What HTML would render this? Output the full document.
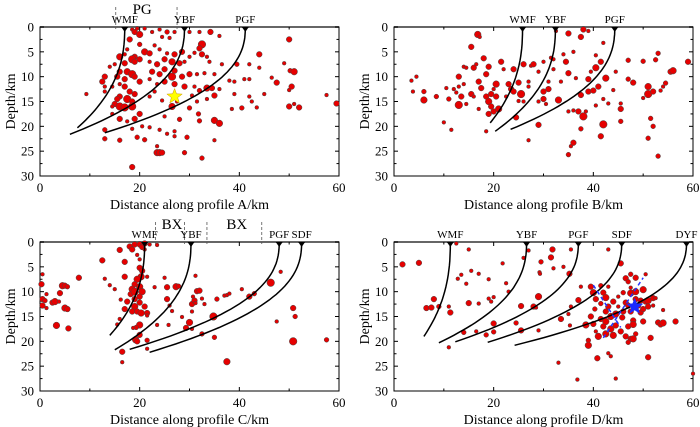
<!DOCTYPE html>
<html><head><meta charset="utf-8">
<style>
html,body{margin:0;padding:0;background:#fff;}
svg{display:block;font-family:"Liberation Serif",serif;}
</style></head>
<body>
<svg id="chart" width="700" height="427" viewBox="0 0 700 427" xmlns="http://www.w3.org/2000/svg"></svg>
<script>
const xTicks = [0,20,40,60];
const yTicks = [0,5,10,15,20,25,30];
const panelIds = ['A','B','C','D'];
const panelOrigins = {A:[40,27],B:[394,27],C:[40,242],D:[394,242]};
// events: [distance km, depth km, radius]
const eventsA = [[18.5,0.5,2],[19,1,3],[20,1.5,3.5],[19.5,0.3,2],[21,0.3,2],[18,2.5,3],[20,3.5,2.5],[17.5,4.5,2],[21,5,3.5],[22,5.3,3],[19,6,3],[16,6,3.5],[17,5.5,2],[18.5,6.5,4],[20,6.5,3],[15,7.5,2],[17,7.3,3],[19,7,3],[14,8,2],[16,9,3],[17.5,9,3.5],[18.5,9.5,4],[15.5,10,3],[17,10.5,3],[19,10,3],[20,11,3],[13,10,3],[12.5,11,3],[14.5,12,2],[16,11.5,2],[17,12,3],[18,13,3],[19,13.5,3],[16,14,3],[17.5,14.5,4],[18.5,15,3],[15.5,14.5,3],[15,15.5,3],[16,16,4],[17,16.2,4],[18.5,16,4],[14.5,16,2],[13,13,2],[13,12,2],[9.3,13.5,2],[14.5,17.5,2],[16,18.5,3],[17.5,19,2],[19,18.5,3],[20,17.5,3],[13,20.7,2.5],[13,22.5,2.5],[16,22.8,2.5],[19.5,22.2,2.5],[21,22.7,2.5],[18.5,20.5,2],[20.5,20,2],[22,20.2,2],[18.5,28.2,3],[23.5,25.3,3.5],[24,25.3,3.5],[24.5,25.3,3],[23.5,24,2],[24,20.7,2],[25.5,21.5,2],[27,22,2],[27,21,2],[29.5,22.2,2.5],[29,25.3,2.5],[32.5,26.4,2.5],[22.5,1,2],[24,0.5,2],[24.5,2,2],[25.5,1,2.5],[26,2.2,2],[27,1,2],[30,1,2],[32,1,2],[34.2,1,3],[36,1.8,2],[32.5,3.5,4],[32,4.3,3],[32.5,5.5,3],[31,5.2,2],[30,6,2],[28.5,5,3],[27,5.5,3],[25.5,5.3,2],[24,4.5,2],[23,3.7,2],[22,7,2],[23.5,7.5,3],[25,6.5,3],[26.5,7,3.5],[28,7.3,3],[29,7,2],[33.5,6,2],[34,7,2],[36.5,7.5,2],[25,8.5,3],[27,8.8,3],[22.5,9,3],[24,9.5,3],[26.5,10,4],[28.5,10,3],[30,9.5,3],[31.5,9.5,2],[33,9.3,2],[35,9.5,2],[22,10.5,2],[23.5,11.5,2],[25,11,3],[27,11.5,3],[29,12,3],[31,12,2],[33.5,12.3,3.5],[34.5,12.3,3],[36,12.5,2],[32,12.8,2.5],[38,10.8,2],[30.5,13.8,2],[31.5,15,2],[33.5,14.5,2],[35,13.8,3],[27.5,15,2],[26.5,16,3.5],[30,16.3,2.5],[22,14,2],[24.5,14.8,2],[23,13,2],[31.8,17.5,2.5],[32,18.9,2.5],[35,18.8,3.5],[36,19.4,3.5],[28,18.6,2.5],[25,18,2],[35,22.8,2],[38.5,16.5,2],[40.5,16.3,2.5],[43.5,16.2,2],[42,14,2],[42.5,15,2],[41,10.5,2],[39,11,2],[39,13.5,2],[42,10.5,2],[44,8.2,2],[42,7.5,2],[44,5.5,3],[39.5,7.5,2.5],[45,13.5,2],[46.5,10.2,2],[47.5,11.2,3],[49,7.3,2],[50,2.5,3],[50.2,8.8,2.5],[51,9,3.5],[50.5,12,3],[50,12.7,2],[50,16,3],[51,15.5,2],[52,16.2,3],[57.5,13.7,2],[59.5,15.4,3]];
const eventsB = [[3.5,10.8,2],[4.5,10,2],[3.8,13,2],[6,13,2.5],[6,14.7,3.5],[8.5,14,2.5],[10,19.2,2],[10.5,12.3,2],[11,14.5,2.5],[11.5,20.7,2],[12,12.5,2],[12.5,13.2,2],[13,10,3],[13,12,2],[13,15.7,4],[13.5,14,3],[14,8,2],[14,11.5,2],[14.5,15.5,2],[14.5,8.2,2],[15.5,13.5,3],[16,14,2],[16,8.2,3],[15.5,4,3],[16.8,1.5,3.5],[17.2,2,2],[16.5,7.5,2],[17,11,3],[17,16.5,2],[17.5,12.3,3],[18,6.3,3],[18.5,9.5,3],[18.5,14,3],[19,8,3],[19,15,3.5],[19.5,13.5,3],[19.5,16,3],[20,17,3],[20,12.5,2],[20.5,11.5,3.5],[21,16.5,3.5],[20.5,14,3],[19,17.5,3],[18.5,21,2],[21.5,7,3],[22,8.5,2],[22.5,14,2],[23,11.5,3],[23.5,12.5,3],[24,8.5,3],[24,13,3],[25.5,13.5,4],[25,11.2,3],[24.5,18.2,3],[26,7.5,3],[25,14.9,2],[26,15,2],[27,11,2],[27.5,7.8,2],[28,7.5,3],[27,12,2],[27,22.8,2],[29,19.7,3],[29,15,2],[29,9,2],[30,13,3],[30,14.5,3],[30,7,2],[30.5,15.5,2],[31,12.5,3],[31,11,2],[31.5,6.2,2],[32,8.5,2],[32,6.5,2],[32.5,0.8,2],[33,14.7,3.5],[33.5,11,2],[34,5.5,2],[34.5,7,3],[35,9.3,3],[35,1.3,3],[35,17,2],[35,25.7,2.5],[35.5,24,2],[36,23.3,3],[36,5,2],[36.5,10.3,2],[37,17,3],[37.5,13.7,3],[37.5,2,3],[37.5,20.5,2.5],[38,18,4],[38,0.5,3],[38.5,17,2],[39,10.5,3],[39,13,3],[39,0.8,2],[39.5,9,2],[40,12.8,3],[40.5,8.2,3.5],[40.5,5.7,2],[40.5,15.8,2],[41,12,3],[41.5,7,3],[41.5,22,3],[42,19.6,4],[42,14.5,2],[42.5,10.3,3.5],[42,3.2,2],[43,15.4,2],[44,12.7,2],[44.5,9,2],[45.5,15.4,2],[45.5,16.5,3],[45.5,19,2.5],[47,6.7,2.5],[47,10.5,2.5],[48,11.2,3],[50,14.3,2],[50,6.9,2.5],[51,12,3.5],[51,13.5,4],[52,13,3],[51.5,18.4,2.5],[52,20,2.5],[51,22.4,2.5],[52.5,6.6,2.5],[53,5.3,2.5],[53.5,12.8,2],[54,12,2],[54.5,11.3,2.5],[55.5,9,3],[56,8.8,3.5],[59,7,3],[53,26,2.5],[36,16.8,2]];
const eventsC = [[0.5,6.5,2],[0.3,8.5,3],[0.5,11.5,3],[0.5,12.8,3],[1,11.8,2.5],[1.3,10.5,2],[1.3,13.3,2],[2.5,12.2,3],[3,12,3.5],[3.3,16.8,3.5],[3.8,12,2],[4,10.3,3],[4.5,8.8,3.5],[5,8.8,3],[5,13.3,3.5],[5.5,9,2.5],[5.5,13.5,3],[5.7,17.4,3],[7.8,7.2,3],[12.5,3.7,3],[13,7.4,2],[14,8.7,2],[15,9.5,2],[15.5,16.6,2],[16,15.5,2],[16.5,24.2,2],[16.5,22.1,3],[16.2,11.6,2],[16,1.6,3],[17,4,3],[17,7,3],[17.5,12,3],[17,13.5,3],[18,0.9,3],[18.5,1.5,3],[19,0.5,3],[20,0.5,3],[20.5,1,3],[19.5,2.6,2],[20,3.5,2],[20,5.2,3],[20.5,5.8,3],[20.3,7,3.5],[19.5,7.5,3.5],[19,8.5,3],[18.5,9.5,3.5],[18.2,10.5,3],[19,10,4],[20,9,3.5],[20.5,10,3.5],[20,11,3],[19,11.5,3],[20,12.2,3],[19,13,3.5],[18.5,14,3],[19.5,14,3],[20.3,14.3,3.5],[21,13,3],[21.5,14.3,3],[21.5,14.8,2],[20,16.7,3.5],[19.3,17.2,2.5],[18.7,17.3,2],[20,18.7,3],[19.2,19.7,3.5],[19.5,20,3],[21.5,19.8,2.5],[21.5,21.5,2],[21.5,7,2],[21,1.5,2],[22,0.5,2],[23.5,0.6,2],[23,9.1,2],[23.5,16.7,2],[25,7.2,2],[25.5,9.1,3],[25.5,11.5,3],[26,12.8,2],[26.5,13.9,2],[25.8,16.7,2],[27.3,9,3.5],[27.8,8.9,2.5],[28.5,15.1,2],[29.3,17.3,3],[30,16.2,3.5],[30.5,17.5,2],[30.5,12.5,3],[30.7,11,2],[31,11.8,3],[31.2,6.8,2],[31.5,9.9,3],[32,9.8,3],[32.5,11.4,2],[32.5,18.5,2.5],[33,12.5,2],[34.8,15,4],[35.5,11.5,2.5],[35,19.2,2.5],[37,10.8,2],[37.5,10.7,2],[38,10.4,2],[37.5,24.1,3.5],[40.5,9.5,2],[42,11,3],[43,10.4,2.5],[46.3,8.2,4],[47.5,16,2],[48.3,6,2],[50.8,13.3,3],[51.2,15,2.5],[50.8,20,4],[57.5,19.7,2.5],[30.5,14,2],[31.2,12.3,2],[21,0.3,3]];
const eventsD = [[1.7,4.5,3],[5,4.2,3],[6.5,13.3,3],[7.5,13.2,3],[8,11.5,3],[9,13,2.5],[11,13,2],[11.3,14.2,3],[11,21.2,2],[12.5,0.3,2],[12.8,7.4,2],[13.5,6.6,2],[14,18.2,2.5],[14.5,8.4,2],[15,1.5,2],[15.5,5.8,2],[15,12.3,3],[16.5,18,2],[17,12.4,2],[17,6.4,2],[18.5,18.7,2.5],[19,11.4,2],[19,7.5,2],[19.5,12,2],[20,16.4,3],[20,18.1,2.5],[20,11.1,2],[21.8,4.3,2],[22.5,8.3,2],[23,10,2],[24.5,16.3,2.5],[25.5,12.9,3],[25.5,17.8,3],[26,3.2,2],[27,1.7,2],[28,13,3],[28.5,13.2,2],[29,11,3.5],[29,17.8,2],[29.2,6.1,2],[29.3,6.4,2],[29.5,4,2.5],[31.5,3.1,3],[31.8,1.5,3],[32,5.3,2],[33,24.3,2],[33.5,15.5,3],[34,5,2],[35,14.5,2],[35.2,6.4,3],[35.3,16.8,2],[35.5,13,2],[35.5,1.5,2],[36.8,27.7,2],[37,11.7,3],[37.5,9,2],[38.5,16.7,3.5],[39,19.8,2.5],[39,20.8,3.5],[39.5,15,3],[39.5,9,3],[40,10.2,3.5],[40.5,11.5,3],[40.3,13.5,2.5],[40,16.5,3],[40.5,18,2],[40.8,23.4,3],[41,19,3.5],[41.5,15.5,3],[41.5,12.4,2.5],[41.5,8.8,2.5],[42,10.2,3],[42,17,3],[42.5,11.2,3.5],[42.5,14,3],[42.5,16,3.5],[42.5,18.5,3.5],[43,13,3],[43,9,2],[43,22.4,2],[43.5,15,3.5],[43.5,17.5,3.5],[43,1.5,2],[43.5,23,2],[44,12,3],[44,18.8,3.5],[44.5,14.5,3.5],[44.5,16.8,3],[44.5,27.5,2],[45,11,2],[45,13,2],[45.5,18,3],[45.5,4.3,3],[45.8,15.2,3],[46,10.2,2.5],[46,14,3],[46.5,19,3],[46.5,12.2,3],[46.5,7.3,3],[47,8,2.5],[47.5,10.3,3.5],[47,12.8,3],[47.5,14,3],[47,17,3],[47.5,19.5,3],[47,20.2,2.5],[47.5,9.2,2],[47.5,6.5,2.5],[48,15.8,3],[48,16.6,3.5],[48,19.5,3.5],[48.5,11.5,3],[48.5,7.2,3],[48.5,18.5,2.5],[48.5,10,3.5],[49,12.8,3],[49.5,14.2,3],[49.5,11.8,3],[50,9.6,3.5],[50,13.5,3],[50,16,3],[50.5,12,3],[50.5,6.5,2],[51,11.8,3.5],[51,13,3],[51.5,19.3,3],[51,23.2,3],[52,11.3,3],[52,12.8,2],[52.5,11.3,2],[53,16.2,3],[53.5,16.6,3],[54,16.3,3.5],[54,13.7,2],[56.5,16,3],[60,26.5,2]];
// faults: [name, surface x, end x, end depth]
const faultsA = [['WMF',17,7.5,20.3],['YBF',29,6,21.6],['PGF',41.2,13,21.3]];
const faultsB = [['WMF',25.8,19.3,19.3],['YBF',32.4,20.3,21],['PGF',44.3,23.4,20.6]];
const faultsC = [['WMF',21,14,18.8],['YBF',30.3,15,21.7],['PGF',48,18,21.6],['SDF',52.5,22,22.2]];
const faultsD = [['WMF',11.3,6,19],['YBF',26.6,9,20.3],['PGF',37,12.3,20.1],['SDF',45.7,18.8,20.2],['DYF',58.7,24.2,20.8]];
const boundsA = [15.2,27.5];
const boundsC = [23.2,29,33.5,44.5];
const zoneLabelsA = [['PG',20.5]];
const zoneLabelsC = [['BX',26.5],['BX',39.5]];
const starA = [27,14];
const starD = [48.3,13];
const blueLinesD = [[40,8.7,45.5,17.2],[42,19.3,50,7.2]];

const NS='http://www.w3.org/2000/svg';
const svg=document.getElementById('chart');
const W=299,H=149;
function mk(tag,attrs,parent){const e=document.createElementNS(NS,tag);for(const k in attrs)e.setAttribute(k,attrs[k]);(parent||svg).appendChild(e);return e;}
function starPath(cx,cy,R){let p='';for(let i=0;i<10;i++){const r=i%2?R*0.42:R;const a=-Math.PI/2+i*Math.PI/5;p+=(i?'L':'M')+(cx+r*Math.cos(a)).toFixed(1)+','+(cy+r*Math.sin(a)).toFixed(1);}return p+'Z';}

const data={A:[eventsA,faultsA,boundsA,zoneLabelsA],B:[eventsB,faultsB,[],[]],C:[eventsC,faultsC,boundsC,zoneLabelsC],D:[eventsD,faultsD,[],[]]};

panelIds.forEach(id=>{
  const [ox,oy]=panelOrigins[id];
  const sx=v=>ox+v/60*W, sy=d=>oy+d/30*H;
  const g=mk('g',{});
  
  
  const [events,faults,bounds,zones]=data[id];
  const fr=mk('rect',{x:ox,y:oy,width:W,height:H,fill:'none',stroke:'#000','stroke-width':1},g);
  
  
  const top=mk('line',{x1:ox,y1:oy,x2:ox+W,y2:oy,stroke:'#666','stroke-width':2},g);
  
  
  for(let v=0;v<=60;v+=10){
    const major=v%20===0, L=major?4:2.5;
    mk('line',{x1:sx(v),y1:oy+H,x2:sx(v),y2:oy+H-L,stroke:'#000'},g);
    mk('line',{x1:sx(v),y1:oy,x2:sx(v),y2:oy+L,stroke:'#000'},g);
  }
  xTicks.forEach(v=>{const t=mk('text',{x:sx(v),y:oy+H+16,'text-anchor':'middle','font-size':13},g);t.textContent=v;
    });
  for(let d=0;d<=30;d+=2.5){
    const major=d%5===0, L=major?4:2.5;
    mk('line',{x1:ox,y1:sy(d),x2:ox+L,y2:sy(d),stroke:'#000'},g);
    mk('line',{x1:ox+W,y1:sy(d),x2:ox+W-L,y2:sy(d),stroke:'#000'},g);
  }
  yTicks.forEach(d=>{const t=mk('text',{x:ox-6,y:sy(d)+4.5,'text-anchor':'end','font-size':13},g);t.textContent=d;
    });
  const xt=mk('text',{x:ox+W/2,y:oy+H+33,'text-anchor':'middle','font-size':14},g);
  xt.textContent='Distance along profile '+id+'/km';
  
  const yt=mk('text',{x:0,y:0,'text-anchor':'middle','font-size':14,transform:`translate(${ox-25},${oy+H/2}) rotate(-90)`},g);
  yt.textContent='Depth/km';
  
  bounds.forEach(b=>{const l=mk('line',{x1:sx(b),y1:oy-20,x2:sx(b),y2:oy+2,stroke:'#555','stroke-dasharray':'3,2','stroke-width':0.8},g);
    });
  zones.forEach(z=>{const t=mk('text',{x:sx(z[1]),y:oy-13,'text-anchor':'middle','font-size':15},g);t.textContent=z[0];
    });
  events.forEach(e=>{const c=mk('circle',{cx:sx(e[0]),cy:sy(e[1]),r:e[2]*0.95,fill:'#e60000',stroke:'#444','stroke-width':0.5},g);
    });
  faults.forEach(f=>{
    const [name,xs,xe,ye]=f;let p='';
    for(let i=0;i<=40;i++){const d=ye*i/40;const x=xs-(xs-xe)*Math.pow(d/ye,2.4);p+=(i?'L':'M')+sx(x).toFixed(1)+','+sy(d).toFixed(1);}
    const pa=mk('path',{d:p,fill:'none',stroke:'#000','stroke-width':1.5},g);
    
    const tri=mk('path',{d:`M${sx(xs)-3.5},${oy}L${sx(xs)+3.5},${oy}L${sx(xs)},${oy+5}Z`,fill:'#000'},g);
    
    const t=mk('text',{x:sx(xs),y:oy-4,'text-anchor':'middle','font-size':11},g);t.textContent=name;
    
  });
  if(id==='A'){const s=mk('path',{d:starPath(sx(starA[0]),sy(starA[1]),8),fill:'#ffff00',stroke:'#cc9900','stroke-width':0.5},g);
    }
  if(id==='D'){
    blueLinesD.forEach(b=>{const l=mk('line',{x1:sx(b[0]),y1:sy(b[1]),x2:sx(b[2]),y2:sy(b[3]),stroke:'#2233ff','stroke-width':1.5,'stroke-dasharray':'4,3'},g);
      });
    const s=mk('path',{d:starPath(sx(starD[0]),sy(starD[1]),9),fill:'#1a2aff'},g);
    
  }
});
</script>
</body></html>
